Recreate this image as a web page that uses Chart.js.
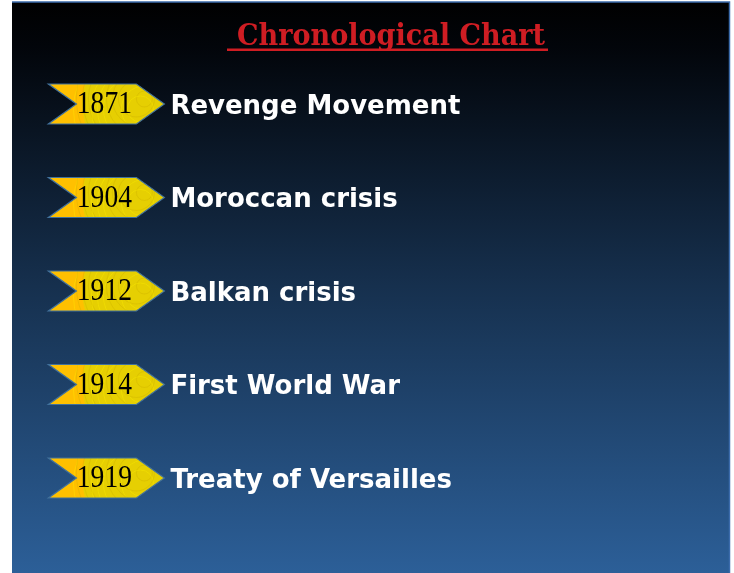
<!DOCTYPE html>
<html>
<head>
<meta charset="utf-8">
<script src="https://cdn.jsdelivr.net/npm/chart.js@4"></script>
<style>
  html, body { margin: 0; padding: 0; background: #fff; }
  #timeline { display: block; }
</style>
</head>
<body>
<canvas id="timeline" width="734" height="573"></canvas>
<script>
// chart data
const chartTitle = 'Chronological Chart';
const years = ['1871', '1904', '1912', '1914', '1919'];
const events = ['Revenge Movement', 'Moroccan crisis', 'Balkan crisis', 'First World War', 'Treaty of Versailles'];
const rows = [0, 1, 2, 3, 4];

// slide background + title
const slideBackground = {
  id: 'slideBackground',
  beforeDraw(chart) {
    const ctx = chart.ctx;
    const w = chart.width, h = chart.height;
    ctx.save();
    ctx.fillStyle = '#ffffff';
    ctx.fillRect(0, 0, w, h);
    const grad = ctx.createLinearGradient(0, 0, 0, h);
    grad.addColorStop(0, '#000000');
    grad.addColorStop(0.08, '#02050a');
    grad.addColorStop(0.5, '#16304e');
    grad.addColorStop(1, '#2c5f98');
    ctx.fillStyle = grad;
    ctx.fillRect(12, 2, 718, h - 2);
    ctx.strokeStyle = '#3b6bab';
    ctx.lineWidth = 1.5;
    ctx.beginPath();
    ctx.moveTo(12, 2);
    ctx.lineTo(729.5, 2);
    ctx.lineTo(729.5, h);
    ctx.stroke();

    // title, underlined (underline starts a space before the text)
    ctx.font = 'bold 30px "DejaVu Serif Condensed", "DejaVu Serif"';
    ctx.fillStyle = '#cf1d23';
    ctx.textBaseline = 'alphabetic';
    ctx.textAlign = 'left';
    const tw = ctx.measureText(chartTitle).width;
    const sx = 308 / tw;
    ctx.save();
    ctx.translate(237, 45);
    ctx.scale(sx, 1);
    ctx.fillText(chartTitle, 0, 0);
    ctx.restore();
    ctx.fillRect(227, 48.5, 321, 2.5);
    ctx.restore();
  }
};

function chevronPath(ctx, cx, cy) {
  const hw = 58, hh = 20, d = 28;
  ctx.beginPath();
  ctx.moveTo(cx - hw, cy - hh);
  ctx.lineTo(cx + hw - d, cy - hh);
  ctx.lineTo(cx + hw, cy);
  ctx.lineTo(cx + hw - d, cy + hh);
  ctx.lineTo(cx - hw, cy + hh);
  ctx.lineTo(cx - hw + d, cy);
  ctx.closePath();
}

// year chevrons + event labels at the points of the dataset
const chevrons = {
  id: 'chevrons',
  afterDatasetsDraw(chart) {
    const ctx = chart.ctx;
    const meta = chart.getDatasetMeta(0);
    meta.data.forEach((pt, i) => {
      const cx = pt.x, cy = pt.y;
      ctx.save();
      chevronPath(ctx, cx, cy);
      ctx.save();
      ctx.clip();
      ctx.fillStyle = '#ffc000';
      ctx.fillRect(cx - 60, cy - 22, 120, 44);
      ctx.beginPath();
      ctx.arc(cx + 48, cy, 72, 0, Math.PI * 2);
      ctx.fillStyle = '#e6cf02';
      ctx.fill();
      ctx.lineWidth = 1;
      for (let r = 8; r < 72; r += 5) {
        ctx.beginPath();
        ctx.arc(cx + 30 + (r % 3) * 4, cy + (r % 2 ? 5 : -5), r, 0, Math.PI * 2);
        ctx.strokeStyle = r % 2 ? 'rgba(255,240,0,0.35)' : 'rgba(200,170,0,0.3)';
        ctx.stroke();
      }
      ctx.restore();
      chevronPath(ctx, cx, cy);
      ctx.strokeStyle = '#41719c';
      ctx.lineWidth = 1.2;
      ctx.stroke();

      // year, narrow serif
      ctx.fillStyle = '#000000';
      ctx.font = '32px "Liberation Serif"';
      ctx.textAlign = 'center';
      ctx.textBaseline = 'middle';
      ctx.save();
      ctx.translate(cx - 2, cy + 1);
      ctx.scale(0.86, 1);
      ctx.fillText(years[i], 0, 0);
      ctx.restore();

      ctx.fillStyle = '#ffffff';
      ctx.font = 'bold 26px "DejaVu Sans"';
      ctx.textAlign = 'left';
      ctx.fillText(events[i], cx + 64, cy + 3);
      ctx.restore();
    });
  }
};

new Chart(document.getElementById('timeline'), {
  type: 'scatter',
  data: {
    datasets: [{
      label: 'Events',
      data: rows.map(r => ({ x: 0, y: r })),
      pointRadius: 0,
      pointHoverRadius: 0
    }]
  },
  options: {
    responsive: false,
    animation: false,
    devicePixelRatio: 1,
    layout: { padding: 0 },
    plugins: {
      legend: { display: false },
      tooltip: { enabled: false },
      title: { display: false }
    },
    scales: {
      x: { type: 'linear', display: false, min: -1, max: 5.9 },
      y: { type: 'linear', display: false, min: -1.112, max: 5.016, reverse: true }
    }
  },
  plugins: [slideBackground, chevrons]
});
</script>
</body>
</html>
